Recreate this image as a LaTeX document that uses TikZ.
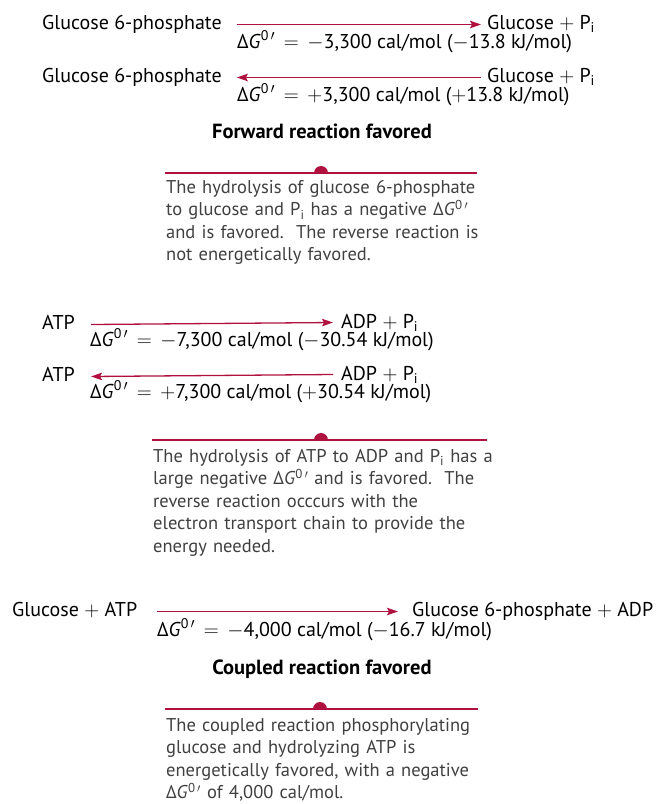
\documentclass[tikz,border=0pt]{standalone}
\usepackage{fontspec}
\setmainfont{PT Sans}
\usetikzlibrary{arrows.meta}

\definecolor{rxnred}{HTML}{B0123F}
\definecolor{notegray}{HTML}{404040}
\newcommand{\dG}{Δ\textit{G}\textsuperscript{0\,$\prime$}}
\newcommand{\Pphos}{P\textsubscript{i}}

\tikzset{
    chem/.style={anchor=base west, inner sep=0pt, font=\fontsize{20}{22}\selectfont},
    head/.style={anchor=base, inner sep=0pt, font=\fontsize{20.5}{22}\selectfont\bfseries},
    rxn/.style={draw=rxnred, line width=1.3pt, -{Stealth[length=11pt,width=7.5pt,inset=2pt]}},
    note/.style={anchor=north west, inner sep=0pt, text width=340pt, align=left,
        text=notegray, font=\fontsize{18.5}{22.5}\selectfont},
    bar/.style={draw=rxnred, line width=1.3pt},
}

\begin{document}
\begin{tikzpicture}[x=1pt, y=-1pt]
    \useasboundingbox (0,0) rectangle (656,804);

    % glucose 6-phosphate <-> glucose + Pi
    \node[chem] (g6pA) at (42,29) {Glucose 6-phosphate};
    \node[chem] (glcA) at (487,29) {Glucose $+$ \Pphos};
    \node[chem] (dgA) at (237,48) {\dG{} \,$=$\, $-$3,300 cal/mol ($-$13.8 kJ/mol)};
    \node[chem] (g6pB) at (42,82) {Glucose 6-phosphate};
    \node[chem] (glcB) at (487,82) {Glucose $+$ \Pphos};
    \node[chem] (dgB) at (237,101) {\dG{} \,$=$\, $+$3,300 cal/mol ($+$13.8 kJ/mol)};
    \draw[rxn] ([xshift=15pt,yshift=2pt]g6pA.mid east) -- ([xshift=-6pt,yshift=2pt]glcA.mid west);
    \draw[rxn] ([xshift=-6pt,yshift=2pt]glcB.mid west) -- ([xshift=15pt,yshift=2pt]g6pB.mid east);
    \node[head] (fwd) at (322,138) {Forward reaction favored};
    \node[note] (noteA) at (166,180) {The hydrolysis of glucose 6-phosphate\\
        to glucose and \Pphos{} has a negative \dG\\
        and is favored.\ \ The reverse reaction is\\
        not energetically favored.};

    % ATP <-> ADP + Pi
    \node[chem] (atpA) at (42,329) {ATP};
    \node[chem] (adpA) at (341,328) {ADP $+$ \Pphos};
    \node[chem] (dgC) at (90,346) {\dG{} \,$=$\, $-$7,300 cal/mol ($-$30.54 kJ/mol)};
    \node[chem] (atpB) at (42,381) {ATP};
    \node[chem] (adpB) at (341,380) {ADP $+$ \Pphos};
    \node[chem] (dgD) at (90,398) {\dG{} \,$=$\, $+$7,300 cal/mol ($+$30.54 kJ/mol)};
    \draw[rxn] ([xshift=16pt,yshift=2pt]atpA.mid east) -- ([xshift=-8pt,yshift=3pt]adpA.mid west);
    \draw[rxn] ([xshift=-8pt,yshift=3pt]adpB.mid west) -- ([xshift=16pt,yshift=2pt]atpB.mid east);
    \node[note] (noteB) at (153,449) {The hydrolysis of ATP to ADP and \Pphos{} has a\\
        large negative \dG{} and is favored.\ \ The\\
        reverse reaction occcurs with the\\
        electron transport chain to provide the\\
        energy needed.};

    % coupled reaction
    \node[chem] (glcC) at (12,616) {Glucose $+$ ATP};
    \node[chem] (g6pC) at (412,616) {Glucose 6-phosphate $+$ ADP};
    \node[chem] (dgE) at (157,636) {\dG{} \,$=$\, $-$4,000 cal/mol ($-$16.7 kJ/mol)};
    \draw[rxn] ([xshift=20pt,yshift=2pt]glcC.mid east) -- ([xshift=-14pt,yshift=2pt]g6pC.mid west);
    \node[head] (cpl) at (322,674) {Coupled reaction favored};
    \node[note] (noteC) at (166,718) {The coupled reaction phosphorylating\\
        glucose and hydrolyzing ATP is\\
        energetically favored, with a negative\\
        \dG{} of 4,000 cal/mol.};

    % red bars with half dots
    \foreach \yb/\xa/\xb/\xd in {173/165/477/321, 440/152/487/321, 709/165/478/320} {
        \draw[bar] (\xa,\yb) -- (\xb,\yb);
        \fill[rxnred] (\xd-7,\yb) arc (180:360:7) -- cycle;
    }
\end{tikzpicture}
\end{document}
